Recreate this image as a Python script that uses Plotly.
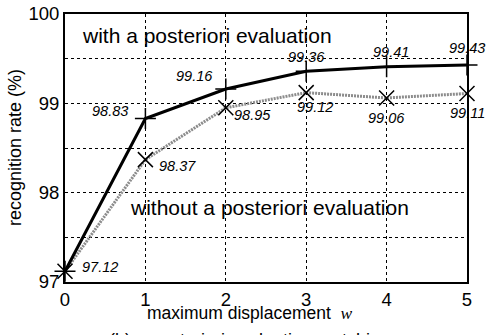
import plotly.graph_objects as go

displacement = [0, 1, 2, 3, 4, 5]
with_eval = [97.12, 98.83, 99.16, 99.36, 99.41, 99.43]
without_eval = [97.12, 98.37, 98.95, 99.12, 99.06, 99.11]
y_ticks = [97, 97.5, 98, 98.5, 99, 99.5, 100]
y_ticktext = ["97", "", "98", "", "99", "", "100"]
x_ticks = [0, 1, 2, 3, 4, 5]

FONT = "Liberation Sans, Arial, sans-serif"

fig = go.Figure()
fig.add_trace(go.Scatter(
    x=displacement, y=without_eval, mode="lines+markers",
    line=dict(color="#8c8c8c", width=3, dash="2px,1px"),
    marker=dict(symbol="x-thin", size=15, line=dict(color="black", width=1.5)),
    cliponaxis=False, showlegend=False))
fig.add_trace(go.Scatter(
    x=displacement, y=with_eval, mode="lines+markers",
    line=dict(color="black", width=3),
    marker=dict(symbol="cross-thin", size=15, line=dict(color="black", width=1.5)),
    cliponaxis=False, showlegend=False))

# label offsets in pixels (xshift, yshift)
label_offsets_with = [None, (-35, 8), (-31, 13), (0, 14), (4, 15), (0, 17)]
label_offsets_without = [(35, 4), (32, -6), (27, -7), (9, -14), (0, -20), (0, -19)]
LBL = dict(family=FONT, size=14.5, color="black")
ann = []
for i, (x, y) in enumerate(zip(displacement, with_eval)):
    off = label_offsets_with[i]
    if off is None:
        continue
    ann.append(dict(x=x, y=y, xref="x", yref="y", text=f"<i>{y:.2f}</i>", showarrow=False,
                    xshift=off[0], yshift=off[1], font=LBL))
for i, (x, y) in enumerate(zip(displacement, without_eval)):
    off = label_offsets_without[i]
    ann.append(dict(x=x, y=y, xref="x", yref="y", text=f"<i>{y:.2f}</i>", showarrow=False,
                    xshift=off[0], yshift=off[1], font=LBL))

ann.append(dict(x=0.19, y=99.76, xref="x", yref="y", xanchor="left", yanchor="middle",
                text="with a posteriori evaluation",
                showarrow=False, font=dict(family=FONT, size=21, color="black")))
ann.append(dict(x=0.78, y=97.83, xref="x", yref="y", xanchor="left", yanchor="middle",
                text="without a posteriori evaluation",
                showarrow=False, font=dict(family=FONT, size=21, color="black")))
ann.append(dict(x=0.0, y=0.5, xref="paper", yref="paper", xanchor="center", yanchor="middle",
                xshift=-50, textangle=-90, text="recognition rate (%)",
                showarrow=False, font=dict(family=FONT, size=18, color="black")))
ann.append(dict(x=0.46, y=-0.114, xref="paper", yref="paper", xanchor="center", yanchor="middle",
                text="maximum displacement  <i><span style='font-family:Liberation Serif,Times New Roman,serif'>w</span></i>",
                showarrow=False, font=dict(family=FONT, size=17.5, color="black")))
ann.append(dict(x=0.46, y=-0.172, xref="paper", yref="paper", xanchor="center", yanchor="top",
                text="(b) a posteriori evaluation matching",
                showarrow=False, font=dict(family=FONT, size=18, color="black")))

fig.update_layout(
    width=488, height=335,
    margin=dict(l=65, r=21, t=14, b=53, autoexpand=False),
    paper_bgcolor="white", plot_bgcolor="white",
    font=dict(family=FONT, size=18, color="black"),
    annotations=ann,
)
fig.update_xaxes(range=[0, 5], tickvals=x_ticks, ticktext=[str(v) for v in x_ticks],
                 showgrid=True, gridcolor="black", gridwidth=1, griddash="dot",
                 showline=True, linecolor="black", linewidth=2, mirror=True,
                 zeroline=False, ticks="", tickfont=dict(size=18.5), automargin=False)
fig.update_yaxes(range=[97, 100], tickvals=y_ticks, ticktext=y_ticktext,
                 showgrid=True, gridcolor="black", gridwidth=1, griddash="dot",
                 showline=True, linecolor="black", linewidth=2, mirror=True,
                 zeroline=False, ticks="", tickfont=dict(size=18.5), automargin=False)

# remove the default page margin so the figure sits at the window's top-left corner
fig.write_html("out.html", config={"displayModeBar": False},
               post_script="document.body.style.margin='0';")
